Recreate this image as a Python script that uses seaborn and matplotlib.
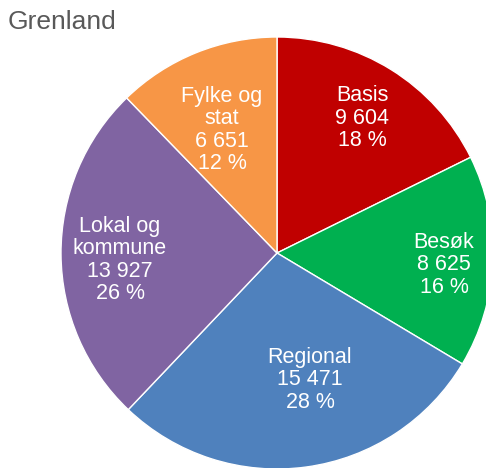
import matplotlib
matplotlib.use("Agg")
import matplotlib.pyplot as plt
import seaborn as sns

sns.set_theme(style="white")
plt.rcParams['font.family'] = ['Liberation Sans', 'DejaVu Sans']

categories = ['Basis', 'Besøk', 'Regional', 'Lokal og\nkommune', 'Fylke og\nstat']
values = [9604, 8625, 15471, 13927, 6651]
pct_labels = ['18 %', '16 %', '28 %', '26 %', '12 %']
colors = ['#C00000', '#00B050', '#4F81BD', '#8064A2', '#F79646']

labels = [f"{c}\n{v:,}".replace(',', ' ') + f"\n{p}" for c, v, p in zip(categories, values, pct_labels)]

fig = plt.figure(figsize=(4.86, 4.68), dpi=100)
ax = fig.add_axes([0, 0, 1, 1])
wedges, texts = ax.pie(values, labels=labels, colors=colors, startangle=90, counterclock=False,
                       radius=1, labeldistance=0.72,
                       wedgeprops=dict(edgecolor='white', linewidth=1),
                       textprops=dict(color='white', fontsize=15.5, ha='center', va='center',
                                      linespacing=1.08))
for t in texts:
    t.set_horizontalalignment('center')

# label placement like Excel "best fit" (offsets from pie centre, in pixels / radius)
label_pos = [(85, 135), (167, -12), (33, -127), (-157, -7), (-55, 123)]
for t, (dx, dy) in zip(texts, label_pos):
    t.set_position((dx / 216, dy / 216))

ax.set_xlim(-277 / 216, (486 - 277) / 216)
ax.set_ylim(-(468 - 253) / 216, 253 / 216)
ax.set_aspect('equal')
ax.axis('off')

fig.text(8 / 486, 1 - 22 / 468, 'Grenland', color='#595959', fontsize=19, ha='left', va='center')

fig.savefig('out.png', dpi=100)
